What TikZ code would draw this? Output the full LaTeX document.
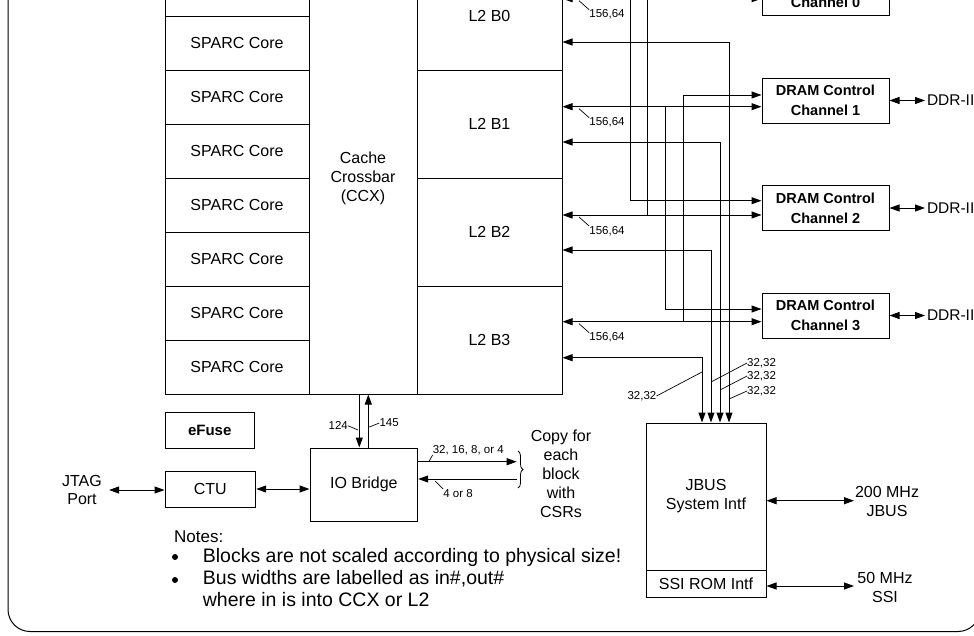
\documentclass[tikz,border=0pt]{standalone}
\usepackage{fontspec}
\setmainfont{Liberation Sans}
\usetikzlibrary{arrows.meta,decorations.pathreplacing}
\newcommand\fsz[2]{\fontsize{#1}{#2}\selectfont}
\begin{document}
\begin{tikzpicture}[x=1pt,y=-1pt,
 box/.style={draw,line width=1pt,inner sep=0pt,align=center,font=\fsz{16}{19}},
 dram/.style={box,minimum width=127pt,minimum height=45pt,font=\bfseries\fsz{14.5}{20}},
 lbl/.style={inner sep=0pt,font=\fsz{11.5}{13}},
 txt/.style={inner sep=0pt,align=center,font=\fsz{16}{19}},
 tk/.style={line width=0.7pt},
 ln/.style={line width=1pt},
 arr/.style={ln,-{Triangle[length=10pt,width=7pt]}},
 darr/.style={ln,{Triangle[length=10pt,width=7pt]}-{Triangle[length=10pt,width=7pt]}},
]
\useasboundingbox (0,0) rectangle (974,635);
\clip (0,0) rectangle (974,635);
% outer frame
\draw[ln,rounded corners=22pt] (8,-80) rectangle (980,631.5);
% SPARC cores
\foreach \i in {0,...,7}
  \node[box,minimum width=144pt,minimum height=54pt] (c\i) at (237,{-11+54*\i}) {SPARC Core};
% crossbar
\node[box,minimum width=108pt,minimum height=432pt] (ccx) at (363,178) {Cache\\Crossbar\\(CCX)};
% L2 banks
\foreach \i in {0,...,3}
  \node[box,minimum width=145pt,minimum height=108pt,text depth=-4pt] (l2\i) at (489.5,{16+108*\i}) {L2 B\i};
% DRAM controllers
\coordinate (ddx) at (925,0);
\foreach \i/\y in {0/-7.5,1/100.5,2/208,3/315.5}{
  \node[dram] (ch\i) at (825.5,\y) {DRAM Control\\Channel \i};
  \draw[darr] (ch\i.east) -- (ch\i.east -| ddx) node[right,inner sep=1.5pt,font=\fsz{15.5}{18}] (ddr\i) {DDR-II};
}
% L2 <-> DRAM
\foreach \i/\d/\u in {0/-1.3/-13,1/106.7/95,2/215/200.7,3/321.7/309}{
  \coordinate (d\i) at (0,\d);
  \coordinate (u\i) at (0,\u);
  \draw[darr] (l2\i.east |- d\i) -- (ch\i.west |- d\i);
  \node[lbl] (w\i) at (607,{\d+16}) {156,64};
  \coordinate (t\i) at (579,{\d+2});
  \draw[tk] (t\i) -- (w\i.north west);
}
\coordinate (v0) at (647.7,0);
\coordinate (v1) at (683.3,0);
\coordinate (v2) at (630,0);
\coordinate (v3) at (665.7,0);
\draw[arr] (v0 |- d2) -- (v0 |- u0) -- (ch0.west |- u0);
\draw[arr] (v1 |- d3) -- (v1 |- u1) -- (ch1.west |- u1);
\draw[arr] (v2 |- d0) -- (v2 |- u2) -- (ch2.west |- u2);
\draw[arr] (v3 |- d1) -- (v3 |- u3) -- (ch3.west |- u3);
% JBUS
\node[box,minimum width=120pt,minimum height=147pt] (jbus) at (706,496.5) {JBUS\\System Intf};
\node[box,minimum width=120pt,minimum height=27pt] (ssi) at (706,583.5) {SSI ROM Intf};
\foreach \i/\x/\s in {0/729/42,1/720/142,2/711/250,3/702/357.7}{
  \coordinate (jx\i) at (\x,0);
  \coordinate (s\i) at (0,\s);
  \draw[darr] (l2\i.east |- s\i) -| (jx\i |- jbus.north);
}
\node[lbl,anchor=east] (q3) at (656.5,396) {32,32};
\node[lbl,anchor=west] (q2) at (747,363) {32,32};
\node[lbl,anchor=west] (q1) at (747,376) {32,32};
\node[lbl,anchor=west] (q0) at (747,391) {32,32};
\coordinate (k3) at (702,372);
\coordinate (k2) at (711,382);
\coordinate (k1) at (720,390);
\coordinate (k0) at (729,399);
\draw[tk] (k3) -- (q3.east);
\draw[tk] (k2) -- (q2.west);
\draw[tk] (k1) -- (q1.west);
\draw[tk] (k0) -- (q0.west);
\coordinate (jb) at (854,0);
\coordinate (ya) at (0,500.7);
\coordinate (yb) at (0,586);
\draw[darr] (jbus.east |- ya) -- (jb |- ya);
\draw[darr] (ssi.east |- yb) -- (jb |- yb);
\node[txt] (mhz200) at (887,501) {200 MHz\\JBUS};
\node[txt] (mhz50) at (885,587) {50 MHz\\SSI};
% IO bridge
\node[box,minimum width=107.7pt,minimum height=73pt] (iob) at (363.85,484.5) {IO Bridge};
\coordinate (ax1) at (359.3,0);
\coordinate (ax2) at (368.3,0);
\draw[arr] (ax1 |- ccx.south) -- (ax1 |- iob.north);
\draw[arr] (ax2 |- iob.north) -- (ax2 |- ccx.south);
\node[lbl,anchor=east] (n124) at (348,425.7) {124};
\node[lbl,anchor=west] (n145) at (379.3,423) {145};
\coordinate (k124) at (358,430);
\coordinate (k145) at (369.3,427);
\draw[tk] (n124.east) -- (k124);
\draw[tk] (k145) -- (n145.west);
% eFuse, CTU, JTAG
\node[box,minimum width=89.5pt,minimum height=36pt,font=\bfseries\fsz{15}{18}] (efuse) at (209.75,430) {eFuse};
\node[box,minimum width=90.7pt,minimum height=36pt] (ctu) at (210.35,489) {CTU};
\draw[darr] (ctu.east) -- (ctu.east -| iob.west);
\node[txt,font=\fsz{16}{18}] (jtag) at (82,490) {JTAG\\Port};
\draw[darr] ([xshift=7pt]jtag.east) -- (ctu.west |- jtag.east);
% CSR buses
\coordinate (br) at (516.7,0);
\coordinate (r1) at (0,461.7);
\coordinate (r2) at (0,479);
\draw[arr] (iob.east |- r1) -- (br |- r1);
\draw[arr] (br |- r2) -- (iob.east |- r2);
\node[lbl] (w32) at (468.3,450) {32, 16, 8, or 4};
\node[lbl] (w48) at (458,493.3) {4 or 8};
\coordinate (k32) at (429.3,461);
\coordinate (k48) at (435,481);
\draw[tk] (k32) -- (w32.south west);
\draw[tk] (k48) -- (w48.north west);
\draw[line width=0.8pt,decorate,decoration={brace,amplitude=5pt}] (518,451) -- (518,488);
\node[txt] (copy) at (561,473.3) {Copy for\\each\\block\\with\\CSRs};
% notes
\node[inner sep=0pt,anchor=west,font=\fsz{17}{20}] (notes) at (174,537) {Notes:};
\node[circle,fill,inner sep=0pt,minimum size=6pt] (bl1) at (175,557) {};
\node[circle,fill,inner sep=0pt,minimum size=6pt] (bl2) at (175,580) {};
\node[inner sep=0pt,anchor=west,font=\fsz{19.5}{22}] (nt1) at (202.7,557) {Blocks are not scaled according to physical size!};
\node[inner sep=0pt,anchor=west,font=\fsz{19.5}{22}] (nt2) at (202.7,579) {Bus widths are labelled as in\#,out\#};
\node[inner sep=0pt,anchor=west,font=\fsz{19.5}{22}] (nt3) at (202.7,600) {where in is into CCX or L2};
\end{tikzpicture}
\end{document}
